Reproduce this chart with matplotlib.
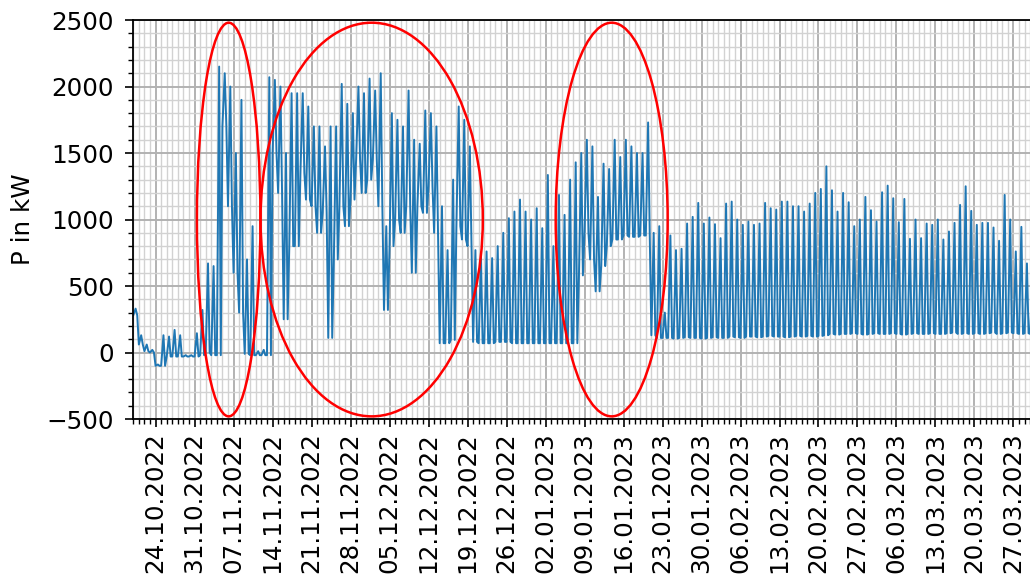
import matplotlib
matplotlib.use('Agg')
import matplotlib.pyplot as plt
import matplotlib.dates as mdates
from matplotlib.patches import Ellipse
import pandas as pd

# Tageswerte ab 20.10.2022: Grundlast (Nacht) und Tagesspitze in kW
inicio = '2022-10-20'
grundlast = [
    280, 60, 10, 0, -100, -100, -30, -30, -30, -30,
    -30, -30, -20, 0, -20, -20, 1700, 1100, 600, 300,
    -10, -20, -20, -20, -20, 1500, 1200, 250, 800, 800,
    1350, 1150, 1100, 900, 1050, 110, 700, 1100, 950, 1150,
    1450, 1200, 1300, 1450, 1100, 320, 800, 1000, 900, 1100,
    600, 1100, 1050, 1250, 900, 70, 70, 95, 950, 850,
    800, 80, 70, 70, 70, 80, 80, 80, 70, 70,
    70, 70, 70, 70, 70, 70, 70, 70, 70, 70,
    580, 900, 700, 460, 650, 800, 850, 850, 880, 870,
    870, 880, 880, 130, 110, 110, 110, 105, 110, 115,
    110, 110, 105, 110, 115, 110, 110, 120, 115, 110,
    120, 120, 115, 120, 125, 120, 120, 115, 120, 125,
    120, 125, 120, 125, 130, 140, 135, 140, 140, 145,
    140, 135, 140, 145, 140, 140, 145, 140, 135, 140,
    145, 140, 140, 145, 140, 140, 145, 150, 140, 145,
    140, 145, 140, 145, 150, 140, 145, 150, 145, 140,
    145, 140, 145,
]
spitze = [
    330, 130, 60, 20, -90, 130, 120, 170, 130, -20,
    -20, 145, 320, 670, 650, 2150, 2100, 2000, 1500, 1900,
    700, 950, 10, 20, 2070, 2050, 2000, 1500, 1950, 1950,
    1950, 1850, 1700, 1700, 1550, 1700, 1700, 2020, 1870, 1800,
    2000, 1950, 2060, 1970, 2100, 950, 1800, 1750, 1700, 1970,
    1600, 1570, 1820, 1800, 1700, 1100, 770, 1300, 1850, 1750,
    1550, 770, 720, 760, 710, 800, 900, 1010, 1060, 1150,
    1060, 1000, 1085, 935, 1335, 800, 1185, 1035, 1300, 1430,
    1500, 1600, 1550, 1170, 1420, 1380, 1600, 1470, 1600, 1550,
    1500, 1500, 1730, 900, 950, 300, 880, 770, 780, 970,
    1020, 1125, 970, 1015, 965, 860, 1120, 1135, 1000, 960,
    985, 960, 970, 1125, 1085, 1075, 1135, 1135, 1100, 1100,
    1060, 1120, 1200, 1230, 1400, 1220, 1060, 1200, 1130, 950,
    1000, 1170, 1070, 985, 1205, 1255, 1160, 980, 1155, 855,
    1000, 860, 970, 960, 1000, 850, 910, 975, 1110, 1250,
    1065, 960, 975, 975, 940, 840, 1185, 1000, 760, 945,
    670, 600, 700,
]

# markierte Bereiche (rote Ellipsen): Mitte und Breite in Tagen
kreis_mitte = ['2022-11-06 03:00', '2022-12-01 19:00', '2023-01-13 21:00']
kreis_breite = [11.4, 39.9, 20.1]

tage = pd.date_range(inicio, periods=len(spitze), freq='D')
zeit = []
werte = []
for t, lo, hi in zip(tage, grundlast, spitze):
    zeit += [t, t + pd.Timedelta(hours=10), t + pd.Timedelta(hours=17)]
    werte += [lo, hi, lo]

fig = plt.figure(figsize=(10.30, 5.81), dpi=100)
ax = fig.add_axes([0.1294, 0.2788, 0.8816, 0.6867])

ax.plot(zeit, werte, color='#1f77b4', lw=1.4)

for m, b in zip(kreis_mitte, kreis_breite):
    el = Ellipse((mdates.date2num(pd.Timestamp(m)), 1000), b, 2960,
                 fill=False, edgecolor='red', lw=1.8, zorder=5)
    ax.add_patch(el)

ax.set_xlim(pd.Timestamp('2022-10-20'), pd.Timestamp('2023-04-01'))
ax.set_ylim(-500, 2500)
ax.set_yticks(range(-500, 2501, 500))
ax.yaxis.set_minor_locator(matplotlib.ticker.MultipleLocator(100))
ax.xaxis.set_major_locator(mdates.WeekdayLocator(byweekday=mdates.MO))
ax.xaxis.set_minor_locator(mdates.DayLocator())
ax.xaxis.set_major_formatter(mdates.DateFormatter('%d.%m.%Y'))
plt.setp(ax.get_xticklabels(), rotation=90)

ax.grid(which='major', color='#b2b2b2', lw=1.4)
ax.grid(which='minor', color='#d2d2d2', lw=1.0)
ax.set_axisbelow(True)
for s in ax.spines.values():
    s.set_linewidth(1.3)
ax.tick_params(which='major', labelsize=17.7, length=6, width=1.2)
ax.tick_params(which='minor', length=3.6, width=1.0)
ax.tick_params(axis='y', which='major', pad=8)
ax.set_ylabel('P in kW', fontsize=17.7, labelpad=8)

fig.savefig('out.png', dpi=100)
